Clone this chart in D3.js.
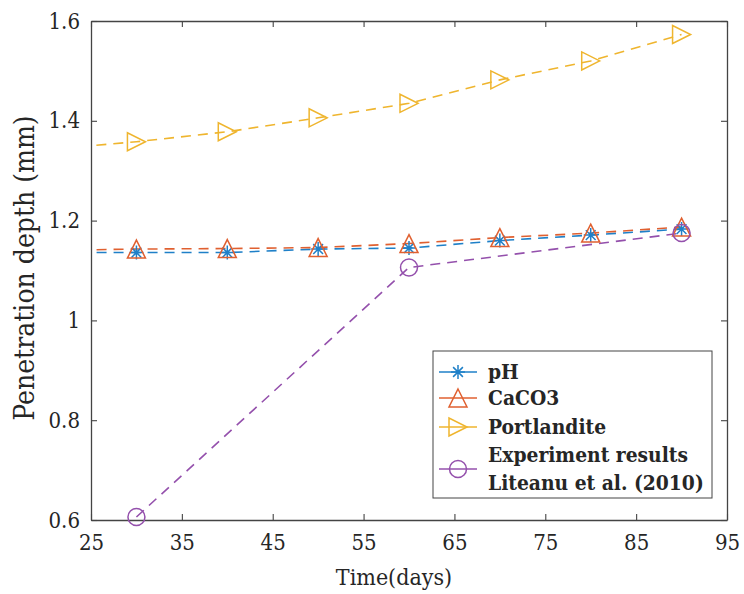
<!DOCTYPE html>
<html>
<head>
<meta charset="utf-8">
<script src="https://cdn.jsdelivr.net/npm/d3@7"></script>
<style>
  body { margin: 0; background: #fff; }
  text { font-family: "DejaVu Serif", serif; font-stretch: condensed; fill: #262626; }
</style>
</head>
<body>
<script>
var width = 744, height = 594;

// data (days / mm)
var days = [20, 30, 40, 50, 60, 70, 80, 90];
var pH = [1.136, 1.136, 1.136, 1.143, 1.145, 1.160, 1.171, 1.183];
var caco3 = [1.140, 1.143, 1.144, 1.146, 1.154, 1.166, 1.175, 1.187];
var portlandite = [1.342, 1.358, 1.378, 1.406, 1.435, 1.482, 1.520, 1.573];
var expDays = [30, 60, 90];
var experiment = [0.606, 1.106, 1.175];

var xTicks = [25, 35, 45, 55, 65, 75, 85, 95];
var yTicks = [0.6, 0.8, 1.0, 1.2, 1.4, 1.6];
var legendLabels = ["pH", "CaCO3", "Portlandite", "Experiment results", "Liteanu et al. (2010)"];

var margin = {left: 91, right: 17, top: 21, bottom: 74};

var svg = d3.select("body").append("svg")
  .attr("width", width)
  .attr("height", height);

var x = d3.scaleLinear().domain([25, 95]).range([margin.left, width - margin.right]);
var y = d3.scaleLinear().domain([0.6, 1.6]).range([height - margin.bottom, margin.top]);

svg.append("clipPath").attr("id", "plotclip")
  .append("rect")
  .attr("x", x(25)).attr("y", y(1.6))
  .attr("width", x(95) - x(25)).attr("height", y(0.6) - y(1.6));

// axes, MATLAB style: box on, ticks pointing in
var axisColour = "#444";
var fmt = function(d){ return d === 1 ? "1" : d3.format(".1f")(d); };

var gx = svg.append("g").attr("transform", "translate(0," + y(0.6) + ")")
  .call(d3.axisBottom(x).tickValues(xTicks).tickSize(-6).tickPadding(15).tickSizeOuter(0));
var gxt = svg.append("g").attr("transform", "translate(0," + y(1.6) + ")")
  .call(d3.axisTop(x).tickValues(xTicks).tickSize(-6).tickFormat("").tickSizeOuter(0));
var gy = svg.append("g").attr("transform", "translate(" + x(25) + ",0)")
  .call(d3.axisLeft(y).tickValues(yTicks).tickSize(-6).tickPadding(11).tickFormat(fmt).tickSizeOuter(0));
var gyr = svg.append("g").attr("transform", "translate(" + x(95) + ",0)")
  .call(d3.axisRight(y).tickValues(yTicks).tickSize(-6).tickFormat("").tickSizeOuter(0));

[gx, gxt, gy, gyr].forEach(function(g){
  g.select(".domain").attr("stroke", axisColour).attr("stroke-width", 1.3);
  g.selectAll(".tick line").attr("stroke", axisColour).attr("stroke-width", 1.1);
  g.selectAll(".tick text").attr("font-size", 22).attr("fill", "#262626")
    .attr("font-family", "DejaVu Serif");
});
gx.selectAll(".tick text").attr("dy", "0.7em");

svg.append("text")
  .attr("x", 394)
  .attr("y", 585)
  .attr("text-anchor", "middle")
  .attr("font-size", 23)
  .text("Time(days)");

svg.append("text")
  .attr("transform", "translate(34," + 268 + ") rotate(-90)")
  .attr("text-anchor", "middle")
  .attr("font-size", 28)
  .text("Penetration depth (mm)");

// series
var series = [
  {name: "pH", xs: days, ys: pH, colour: "#1f80c8", marker: "star"},
  {name: "CaCO3", xs: days, ys: caco3, colour: "#e06030", marker: "up"},
  {name: "Portlandite", xs: days, ys: portlandite, colour: "#efb52e", marker: "right"},
  {name: "Experiment", xs: expDays, ys: experiment, colour: "#9450ac", marker: "circle"}
];

var line = d3.line()
  .x(function(d){ return x(d[0]); })
  .y(function(d){ return y(d[1]); });

function drawMarker(g, type, cx, cy, colour) {
  if (type === "star") {
    var r = 7;
    var p = "M" + (cx - r) + "," + cy + "H" + (cx + r) +
            "M" + cx + "," + (cy - r) + "V" + (cy + r) +
            "M" + (cx - r * 0.7) + "," + (cy - r * 0.7) + "L" + (cx + r * 0.7) + "," + (cy + r * 0.7) +
            "M" + (cx - r * 0.7) + "," + (cy + r * 0.7) + "L" + (cx + r * 0.7) + "," + (cy - r * 0.7);
    g.append("path").attr("d", p).attr("stroke", colour).attr("stroke-width", 1.5).attr("fill", "none");
  } else if (type === "up") {
    var h = 9;
    g.append("path")
      .attr("d", "M" + cx + "," + (cy - h) + "L" + (cx + h) + "," + (cy + h) + "L" + (cx - h) + "," + (cy + h) + "Z")
      .attr("stroke", colour).attr("stroke-width", 1.5).attr("fill", "none");
  } else if (type === "right") {
    var w = 9;
    g.append("path")
      .attr("d", "M" + (cx + w) + "," + cy + "L" + (cx - w) + "," + (cy + w) + "L" + (cx - w) + "," + (cy - w) + "Z")
      .attr("stroke", colour).attr("stroke-width", 1.5).attr("fill", "none");
  } else {
    g.append("circle").attr("cx", cx).attr("cy", cy).attr("r", 8.5)
      .attr("stroke", colour).attr("stroke-width", 1.5).attr("fill", "none");
  }
}

var plot = svg.append("g").attr("clip-path", "url(#plotclip)");

series.forEach(function(s){
  var pts = d3.zip(s.xs, s.ys);
  plot.append("path")
    .attr("d", line(pts))
    .attr("fill", "none")
    .attr("stroke", s.colour)
    .attr("stroke-width", 1.6)
    .attr("stroke-dasharray", "10,7");
});

series.forEach(function(s){
  var g = svg.append("g");
  d3.zip(s.xs, s.ys).forEach(function(p){
    if (p[0] < 25) return;
    drawMarker(g, s.marker, x(p[0]), y(p[1]), s.colour);
  });
});

// legend
var lg = svg.append("g");
lg.append("rect")
  .attr("x", 433).attr("y", 351)
  .attr("width", 279).attr("height", 147)
  .attr("fill", "#fff")
  .attr("stroke", axisColour).attr("stroke-width", 1);

var legendY = [372, 398, 427, 469];
series.forEach(function(s, i){
  var ly = legendY[i];
  lg.append("line")
    .attr("x1", 439).attr("x2", 477)
    .attr("y1", ly).attr("y2", ly)
    .attr("stroke", s.colour).attr("stroke-width", 1.5);
  drawMarker(lg, s.marker, 458, ly, s.colour);
});

var textY = [379, 405, 434, 462, 490];
legendLabels.forEach(function(t, i){
  lg.append("text")
    .attr("x", 488).attr("y", textY[i])
    .attr("font-size", 20.8)
    .attr("font-weight", "bold")
    .text(t);
});
</script>
</body>
</html>
